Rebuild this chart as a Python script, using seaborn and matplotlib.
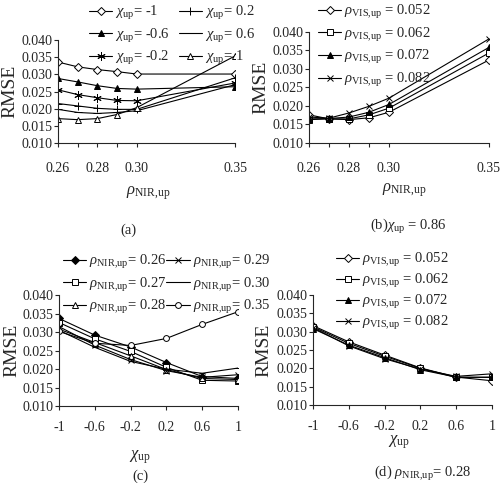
import numpy as np
import pandas as pd
import matplotlib
matplotlib.use("Agg")
import matplotlib.pyplot as plt
from matplotlib.ticker import FormatStrFormatter
from matplotlib.lines import Line2D
import seaborn as sns

# -------------------------------
# data
# -------------------------------
nir_x = [0.26, 0.27, 0.28, 0.29, 0.30, 0.35]
chi_x = [-1, -0.6, -0.2, 0.2, 0.6, 1]

# (a) RMSE vs rho_NIR for several chi_up
a_labels = ["-1", "-0.6", "-0.2", "0.2", "0.6", "1"]
a_chi_m1 = [0.0336, 0.0322, 0.0314, 0.0308, 0.0301, 0.0301]
a_chi_m06 = [0.0288, 0.0278, 0.0267, 0.0259, 0.0257, 0.0264]
a_chi_m02 = [0.0255, 0.0241, 0.0232, 0.0224, 0.0223, 0.0275]
a_chi_02 = [0.0215, 0.0208, 0.0201, 0.0198, 0.0198, 0.0290]
a_chi_06 = [0.0198, 0.0189, 0.0186, 0.0189, 0.0194, 0.0270]
a_chi_1 = [0.0171, 0.0168, 0.0171, 0.0183, 0.0203, 0.0354]

# (b) RMSE vs rho_NIR for several rho_VIS, chi_up = 0.86
b_labels = ["0.052", "0.062", "0.072", "0.082"]
b_vis_052 = [0.0176, 0.0165, 0.0163, 0.0168, 0.0183, 0.0324]
b_vis_062 = [0.0163, 0.0165, 0.0165, 0.0176, 0.0194, 0.0343]
b_vis_072 = [0.0165, 0.0166, 0.0170, 0.0183, 0.0204, 0.0358]
b_vis_082 = [0.0170, 0.0167, 0.0181, 0.0199, 0.0221, 0.0381]

# (c) RMSE vs chi_up for several rho_NIR
c_labels = ["0.26", "0.27", "0.28", "0.29", "0.30", "0.35"]
c_nir_026 = [0.0337, 0.0292, 0.0260, 0.0218, 0.0180, 0.0175]
c_nir_027 = [0.0326, 0.0282, 0.0248, 0.0205, 0.0170, 0.0168]
c_nir_028 = [0.0308, 0.0272, 0.0236, 0.0199, 0.0175, 0.0172]
c_nir_029 = [0.0315, 0.0265, 0.0226, 0.0196, 0.0178, 0.0185]
c_nir_030 = [0.0305, 0.0259, 0.0221, 0.0200, 0.0189, 0.0203]
c_nir_035 = [0.0302, 0.0270, 0.0264, 0.0283, 0.0321, 0.0355]

# (d) RMSE vs chi_up for several rho_VIS, rho_NIR = 0.28
d_labels = ["0.052", "0.062", "0.072", "0.082"]
d_vis_052 = [0.0316, 0.0272, 0.0236, 0.0201, 0.0176, 0.0166]
d_vis_062 = [0.0313, 0.0268, 0.0233, 0.0200, 0.0175, 0.0176]
d_vis_072 = [0.0308, 0.0263, 0.0229, 0.0196, 0.0176, 0.0175]
d_vis_082 = [0.0311, 0.0261, 0.0226, 0.0198, 0.0178, 0.0185]

# marker styles: (marker, facecolor)
OPEN_D = ("D", "white")
FILL_T = ("^", "black")
STAR = ((6, 2, 0), "black")
PLUS = ("+", "black")
DASH = ("_", "black")
OPEN_T = ("^", "white")
OPEN_S = ("s", "white")
FILL_D = ("D", "black")
XMARK = ("x", "black")
OPEN_O = ("o", "white")

W, H = 502, 483


def long_df(x, series, labels):
    rows = []
    for lab, ys in zip(labels, series):
        for xi, yi in zip(x, ys):
            rows.append({"x": xi, "RMSE": yi, "series": lab})
    return pd.DataFrame(rows)


def draw(ax, df, labels, styles, prefix, legend_px, ncol, sizes=None,
         colsp=0.2, lsp=0.32):
    handles = []
    for i, (lab, (mk, fc)) in enumerate(zip(labels, styles)):
        ms = 4.2 if sizes is None else sizes[i]
        sns.lineplot(data=df[df["series"] == lab], x="x", y="RMSE", ax=ax,
                     color="black", linewidth=0.8, marker=mk, markersize=ms,
                     markerfacecolor=fc, markeredgecolor="black",
                     markeredgewidth=0.7, legend=False)
        handles.append(Line2D([], [], color="black", linewidth=0.8, marker=mk,
                              markersize=ms, markerfacecolor=fc,
                              markeredgecolor="black", markeredgewidth=0.7,
                              label=prefix + lab))
    ax.figure.legend(handles=handles, loc="upper left",
                     bbox_to_anchor=(legend_px[0] / W, 1 - legend_px[1] / H),
                     ncol=ncol, frameon=False, fontsize=10.5,
                     handlelength=1.6, handletextpad=0.2,
                     columnspacing=colsp, labelspacing=lsp, borderpad=0.0,
                     borderaxespad=0.0)


def style_axes(ax, label_x_px, xpad):
    fig = ax.figure
    ax.set_ylim(0.010, 0.040)
    ax.set_yticks(np.arange(0.010, 0.0401, 0.005))
    ax.yaxis.set_major_formatter(FormatStrFormatter("%.3f"))
    ax.tick_params(axis="both", direction="out", length=3, width=0.8,
                   labelsize=10, pad=1)
    ax.tick_params(axis="x", pad=xpad)
    for s in ["left", "bottom"]:
        ax.spines[s].set_linewidth(0.8)
    sns.despine(ax=ax)
    ax.set_ylabel("RMSE", fontsize=14)
    bb = ax.get_position()
    # x gives the right edge of the rotated label
    ax.yaxis.set_label_coords(label_x_px / W, (bb.y0 + bb.y1) / 2,
                              transform=fig.transFigure)
    ax.set_xlabel("")
    ax.grid(False)


def main():
    sns.set_style("ticks")
    plt.rcParams["font.family"] = ["Liberation Serif", "DejaVu Serif"]
    plt.rcParams["mathtext.fontset"] = "custom"
    plt.rcParams["mathtext.rm"] = "Liberation Serif"
    plt.rcParams["mathtext.it"] = "Liberation Serif:italic"
    plt.rcParams["mathtext.bf"] = "Liberation Serif:bold"

    fig = plt.figure(figsize=(W / 100, H / 100), dpi=100)
    ax_a = fig.add_axes([0.1155, 0.704, 0.353, 0.213])
    ax_b = fig.add_axes([0.6155, 0.704, 0.3585, 0.230])
    ax_c = fig.add_axes([0.1175, 0.159, 0.3566, 0.230])
    ax_d = fig.add_axes([0.6235, 0.1615, 0.3566, 0.228])

    chi_lab = r"$\chi_{\mathrm{up}}$"
    nir_lab = r"$\rho_{\mathrm{NIR{,}up}}$"
    vis_lab = r"$\rho_{\mathrm{VIS{,}up}}$"

    # (a)
    df_a = long_df(nir_x, [a_chi_m1, a_chi_m06, a_chi_m02, a_chi_02, a_chi_06, a_chi_1], a_labels)
    draw(ax_a, df_a, a_labels, [OPEN_D, FILL_T, STAR, PLUS, DASH, OPEN_T],
         chi_lab + "= ", (89, 4), 2,
         sizes=[4.2, 4.5, 6, 6, 6, 4.5], colsp=0.6)
    # (b)
    df_b = long_df(nir_x, [b_vis_052, b_vis_062, b_vis_072, b_vis_082], b_labels)
    draw(ax_b, df_b, b_labels, [OPEN_D, OPEN_S, FILL_T, XMARK],
         vis_lab + " = ", (318, 3), 1)
    # (c)
    df_c = long_df(chi_x, [c_nir_026, c_nir_027, c_nir_028, c_nir_029, c_nir_030, c_nir_035], c_labels)
    draw(ax_c, df_c, c_labels, [FILL_D, OPEN_S, OPEN_T, XMARK, DASH, OPEN_O],
         nir_lab + "= ", (63, 253), 2, colsp=0.0)
    # (d)
    df_d = long_df(chi_x, [d_vis_052, d_vis_062, d_vis_072, d_vis_082], d_labels)
    draw(ax_d, df_d, d_labels, [OPEN_D, OPEN_S, FILL_T, XMARK],
         vis_lab + " = ", (336, 251), 1, lsp=0.2)

    for ax, lx in [(ax_a, 18), (ax_b, 269)]:
        style_axes(ax, lx, 11)
        ax.set_xlim(0.26, 0.35)
        ax.set_xticks(nir_x)
        ax.set_xticklabels(["0.26", "", "0.28", "", "0.30", "0.35"])
    for ax, lx in [(ax_c, 20), (ax_d, 272)]:
        style_axes(ax, lx, 8)
        ax.set_xlim(-1, 1)
        ax.set_xticks(chi_x)
        ax.set_xticklabels(["-1", "-0.6", "-0.2", "0.2", "0.6", "1"])

    # axis titles and captions as figure text
    fig.text(148 / W, 1 - 193 / H, nir_lab, ha="center", va="center", fontsize=12)
    fig.text(128 / W, 1 - 230 / H, "(a)", ha="center", va="center", fontsize=10.5)
    fig.text(404 / W, 1 - 190 / H, nir_lab, ha="center", va="center", fontsize=12)
    fig.text(408 / W, 1 - 227 / H, "(b)" + chi_lab + " = 0.86", ha="center", va="center", fontsize=10.5)
    fig.text(140 / W, 1 - 457 / H, chi_lab, ha="center", va="center", fontsize=12)
    fig.text(140 / W, 1 - 476 / H, "(c)", ha="center", va="center", fontsize=10.5)
    fig.text(399 / W, 1 - 442 / H, chi_lab, ha="center", va="center", fontsize=12)
    fig.text(423 / W, 1 - 473 / H, "(d) " + nir_lab + "= 0.28", ha="center", va="center", fontsize=10.5)

    fig.savefig("out.png", dpi=100)


if __name__ == "__main__":
    main()
